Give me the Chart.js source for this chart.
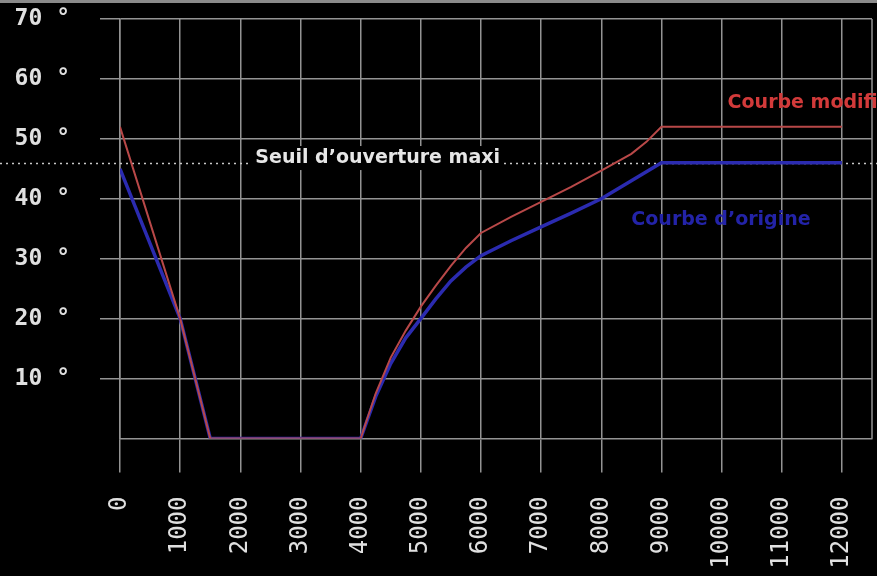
<!DOCTYPE html>
<html>
<head>
<meta charset="utf-8">
<script src="https://cdn.jsdelivr.net/npm/chart.js@4"></script>
<style>
  html, body { margin: 0; padding: 0; background: #000; }
  #wrap { width: 877px; height: 576px; position: relative; }
</style>
</head>
<body>
<div id="wrap"><canvas id="ouvertureChart"></canvas></div>
<script>
// regime moteur (tr/min)
const rpm = [0, 1000, 1500, 4000, 4250, 4500, 4750, 5000, 5250, 5500, 5750, 6000, 6500, 7000, 7500, 8000, 8500, 8750, 9000, 12000];
// angle d'ouverture (degres)
const courbeModifiee = [52, 20, 0, 0, 7.5, 13.5, 18, 22, 25.5, 28.8, 31.8, 34.3, 37, 39.5, 42, 44.7, 47.5, 49.5, 52, 52];
const courbeOrigine = [45, 20, 0, 0, 7, 12.5, 16.8, 20, 23.3, 26.3, 28.6, 30.5, 33, 35.3, 37.6, 40, 43, 44.5, 46, 46];
const xTicks = [0, 1000, 2000, 3000, 4000, 5000, 6000, 7000, 8000, 9000, 10000, 11000, 12000];
const yTicks = [10, 20, 30, 40, 50, 60, 70];
const seuilMaxi = 46;

const gridColor = "#939393";

// fond noir, cadre, ligne pointillee du seuil et textes
const decorPlugin = {
    id: "decor",
    beforeDraw(chart) {
        const ctx = chart.ctx;
        ctx.save();
        ctx.fillStyle = "#000";
        ctx.fillRect(0, 0, chart.width, chart.height);
        ctx.fillStyle = "#8a8a8a";
        ctx.fillRect(0, 0, chart.width, 3);
        ctx.restore();
    },
    beforeDatasetsDraw(chart) {
        const ctx = chart.ctx;
        const a = chart.chartArea;
        const x = chart.scales.x;
        const y = chart.scales.y;
        ctx.save();
        // bord droit du cadre
        ctx.strokeStyle = gridColor;
        ctx.lineWidth = 1.5;
        ctx.beginPath();
        ctx.moveTo(a.right, a.top);
        ctx.lineTo(a.right, a.bottom);
        ctx.stroke();
        // seuil d'ouverture
        const ys = Math.round(y.getPixelForValue(seuilMaxi)) + 0.5;
        ctx.strokeStyle = "#c8c8c8";
        ctx.lineWidth = 1.5;
        ctx.setLineDash([2, 4]);
        ctx.beginPath();
        ctx.moveTo(0, ys);
        ctx.lineTo(chart.width, ys);
        ctx.stroke();
        ctx.setLineDash([]);
        // texte du seuil sur fond noir
        ctx.font = "bold 19px 'DejaVu Sans'";
        ctx.textBaseline = "middle";
        const label = "Seuil d\u2019ouverture maxi";
        const tx = x.getPixelForValue(2250);
        const ty = y.getPixelForValue(46.8);
        const w = ctx.measureText(label).width;
        ctx.fillStyle = "#000";
        ctx.fillRect(tx - 4, ty - 12, w + 8, 24);
        ctx.fillStyle = "#e6e6e6";
        ctx.fillText(label, tx, ty);
        ctx.restore();
    },
    afterDatasetsDraw(chart) {
        const ctx = chart.ctx;
        const x = chart.scales.x;
        const y = chart.scales.y;
        ctx.save();
        ctx.font = "bold 19px 'DejaVu Sans'";
        ctx.textBaseline = "middle";
        ctx.fillStyle = "#d23a3a";
        ctx.fillText("Courbe modifi\u00e9e", x.getPixelForValue(10100), y.getPixelForValue(55.9));
        ctx.fillStyle = "#2323a8";
        ctx.fillText("Courbe d\u2019origine", x.getPixelForValue(8500), y.getPixelForValue(36.5));
        ctx.restore();
    },
};

const ouvertureConfig = {
    type: "line",
    data: {
        datasets: [
            {
                label: "Courbe d'origine",
                data: rpm.map((r, i) => ({ x: r, y: courbeOrigine[i] })),
                borderColor: "#2b2bb0",
                borderWidth: 3.5,
                pointRadius: 0,
                tension: 0,
                order: 2,
            },
            {
                label: "Courbe modifiée",
                data: rpm.map((r, i) => ({ x: r, y: courbeModifiee[i] })),
                borderColor: "#b84848",
                borderWidth: 2,
                pointRadius: 0,
                tension: 0,
                order: 1,
            },
        ],
    },
    options: {
        responsive: true,
        maintainAspectRatio: false,
        animation: false,
        layout: {
            padding: { top: 19, right: 5, left: 0, bottom: 0 },
        },
        plugins: {
            legend: { display: false },
            tooltip: { enabled: false },
        },
        scales: {
            x: {
                type: "linear",
                min: 0,
                max: 12500,
                afterBuildTicks: (scale) => {
                    scale.ticks = xTicks.map((v) => ({ value: v }));
                },
                afterFit: (scale) => {
                    scale.height = 137.5;
                    scale.paddingLeft = 0;
                    scale.paddingRight = 0;
                },
                border: { display: true, color: gridColor, width: 1.5 },
                grid: {
                    color: gridColor,
                    lineWidth: 1.5,
                    tickLength: 34,
                    tickColor: gridColor,
                },
                ticks: {
                    autoSkip: false,
                    minRotation: 90,
                    maxRotation: 90,
                    padding: 24,
                    color: "#e0e0e0",
                    font: { family: "'DejaVu Sans Mono'", size: 24 },
                    callback: (v) => String(v),
                },
            },
            y: {
                type: "linear",
                min: 0,
                max: 70,
                afterBuildTicks: (scale) => {
                    scale.ticks = yTicks.map((v) => ({ value: v }));
                },
                afterFit: (scale) => {
                    scale.width = 120;
                    scale.paddingTop = 0;
                    scale.paddingBottom = 0;
                },
                border: { display: true, color: gridColor, width: 1.5 },
                grid: {
                    color: gridColor,
                    lineWidth: 1.5,
                    tickLength: 20,
                    tickColor: gridColor,
                },
                ticks: {
                    padding: 30,
                    color: "#e0e0e0",
                    font: { family: "'DejaVu Sans Mono'", size: 23, weight: "bold" },
                    callback: (v) => v + " \u00b0",
                },
            },
        },
    },
    plugins: [decorPlugin],
};

const ouvertureCtx = document.getElementById("ouvertureChart");
window.ouvertureChart = new Chart(ouvertureCtx, ouvertureConfig);
</script>
</body>
</html>
